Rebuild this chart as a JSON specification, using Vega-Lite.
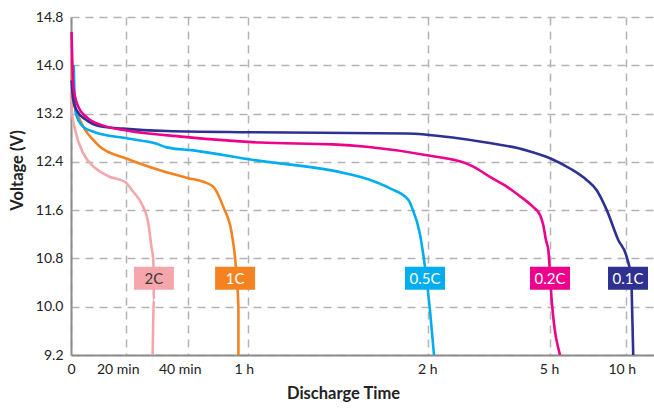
{
  "$schema": "https://vega.github.io/schema/vega-lite/v6.json",
  "width": 583,
  "height": 338,
  "autosize": "none",
  "padding": {"left": 71, "top": 17, "right": 0, "bottom": 54},
  "background": "white",
  "config": {
    "view": {"stroke": null},
    "font": "Lato",
    "axis": {
      "labelFont": "Lato",
      "labelFontSize": 14,
      "labelColor": "#222",
      "titleFont": "Lato",
      "titleFontSize": 16.5,
      "titleFontWeight": "bold",
      "titleColor": "#222",
      "ticks": false,
      "domainColor": "#8c8c8c",
      "domainWidth": 2,
      "gridColor": "#b3b3b3",
      "gridDash": [8, 6],
      "gridWidth": 1.5
    }
  },
  "datasets": {
    "curves": [
      {"rate": "2C", "i": 1, "t": 0.0, "v": 13.55},
      {"rate": "2C", "i": 2, "t": 0.26, "v": 13.26},
      {"rate": "2C", "i": 3, "t": 1.5, "v": 12.93},
      {"rate": "2C", "i": 4, "t": 4.5, "v": 12.54},
      {"rate": "2C", "i": 5, "t": 8.2, "v": 12.32},
      {"rate": "2C", "i": 6, "t": 10.6, "v": 12.24},
      {"rate": "2C", "i": 7, "t": 14.3, "v": 12.15},
      {"rate": "2C", "i": 8, "t": 19.7, "v": 12.07},
      {"rate": "2C", "i": 9, "t": 22.5, "v": 11.9},
      {"rate": "2C", "i": 10, "t": 25.1, "v": 11.71},
      {"rate": "2C", "i": 11, "t": 27.3, "v": 11.38},
      {"rate": "2C", "i": 12, "t": 28.3, "v": 10.99},
      {"rate": "2C", "i": 13, "t": 28.9, "v": 10.77},
      {"rate": "2C", "i": 14, "t": 29.1, "v": 10.11},
      {"rate": "2C", "i": 15, "t": 28.7, "v": 9.2},

      {"rate": "1C", "i": 1, "t": 0.26, "v": 14.11},
      {"rate": "1C", "i": 2, "t": 0.37, "v": 13.81},
      {"rate": "1C", "i": 3, "t": 0.84, "v": 13.42},
      {"rate": "1C", "i": 4, "t": 3.3, "v": 13.09},
      {"rate": "1C", "i": 5, "t": 8.2, "v": 12.76},
      {"rate": "1C", "i": 6, "t": 10.6, "v": 12.65},
      {"rate": "1C", "i": 7, "t": 20, "v": 12.46},
      {"rate": "1C", "i": 8, "t": 31.1, "v": 12.26},
      {"rate": "1C", "i": 9, "t": 40.2, "v": 12.13},
      {"rate": "1C", "i": 10, "t": 45.2, "v": 12.07},
      {"rate": "1C", "i": 11, "t": 48.5, "v": 11.99},
      {"rate": "1C", "i": 12, "t": 51.9, "v": 11.65},
      {"rate": "1C", "i": 13, "t": 54.7, "v": 11.21},
      {"rate": "1C", "i": 14, "t": 55.8, "v": 10.8},
      {"rate": "1C", "i": 15, "t": 56.9, "v": 10.0},
      {"rate": "1C", "i": 16, "t": 56.9, "v": 9.2},

      {"rate": "0.5C", "i": 1, "t": 1.0, "v": 14.0},
      {"rate": "0.5C", "i": 2, "t": 1.3, "v": 13.5},
      {"rate": "0.5C", "i": 3, "t": 1.8, "v": 13.2},
      {"rate": "0.5C", "i": 4, "t": 4.5, "v": 12.98},
      {"rate": "0.5C", "i": 5, "t": 8.2, "v": 12.9},
      {"rate": "0.5C", "i": 6, "t": 20.3, "v": 12.79},
      {"rate": "0.5C", "i": 7, "t": 30, "v": 12.7},
      {"rate": "0.5C", "i": 8, "t": 33.2, "v": 12.64},
      {"rate": "0.5C", "i": 9, "t": 41.9, "v": 12.59},
      {"rate": "0.5C", "i": 10, "t": 61.9, "v": 12.43},
      {"rate": "0.5C", "i": 11, "t": 90.7, "v": 12.23},
      {"rate": "0.5C", "i": 12, "t": 99.5, "v": 12.12},
      {"rate": "0.5C", "i": 13, "t": 107.3, "v": 11.96},
      {"rate": "0.5C", "i": 14, "t": 113.4, "v": 11.77},
      {"rate": "0.5C", "i": 15, "t": 114.5, "v": 11.65},
      {"rate": "0.5C", "i": 16, "t": 117.2, "v": 11.21},
      {"rate": "0.5C", "i": 17, "t": 118.9, "v": 10.66},
      {"rate": "0.5C", "i": 18, "t": 122.5, "v": 9.94},
      {"rate": "0.5C", "i": 19, "t": 128.4, "v": 9.2},

      {"rate": "0.1C", "i": 1, "t": 0.2, "v": 13.75},
      {"rate": "0.1C", "i": 2, "t": 0.84, "v": 13.42},
      {"rate": "0.1C", "i": 3, "t": 2.1, "v": 13.25},
      {"rate": "0.1C", "i": 4, "t": 5.7, "v": 13.09},
      {"rate": "0.1C", "i": 5, "t": 10.6, "v": 12.99},
      {"rate": "0.1C", "i": 6, "t": 19, "v": 12.95},
      {"rate": "0.1C", "i": 7, "t": 33.3, "v": 12.91},
      {"rate": "0.1C", "i": 8, "t": 60.8, "v": 12.89},
      {"rate": "0.1C", "i": 9, "t": 112.8, "v": 12.87},
      {"rate": "0.1C", "i": 10, "t": 119.5, "v": 12.85},
      {"rate": "0.1C", "i": 11, "t": 200.9, "v": 12.73},
      {"rate": "0.1C", "i": 12, "t": 265.5, "v": 12.59},
      {"rate": "0.1C", "i": 13, "t": 300, "v": 12.46},
      {"rate": "0.1C", "i": 14, "t": 379, "v": 12.29},
      {"rate": "0.1C", "i": 15, "t": 445, "v": 12.1},
      {"rate": "0.1C", "i": 16, "t": 485, "v": 11.93},
      {"rate": "0.1C", "i": 17, "t": 525, "v": 11.6},
      {"rate": "0.1C", "i": 18, "t": 571, "v": 11.1},
      {"rate": "0.1C", "i": 19, "t": 604, "v": 10.83},
      {"rate": "0.1C", "i": 20, "t": 624, "v": 10.44},
      {"rate": "0.1C", "i": 21, "t": 627, "v": 10.0},
      {"rate": "0.1C", "i": 22, "t": 632, "v": 9.2},

      {"rate": "0.2C", "i": 1, "t": 0.2, "v": 14.55},
      {"rate": "0.2C", "i": 2, "t": 0.84, "v": 13.64},
      {"rate": "0.2C", "i": 3, "t": 2.7, "v": 13.31},
      {"rate": "0.2C", "i": 4, "t": 5.7, "v": 13.14},
      {"rate": "0.2C", "i": 5, "t": 11.8, "v": 13.0},
      {"rate": "0.2C", "i": 6, "t": 20.3, "v": 12.92},
      {"rate": "0.2C", "i": 7, "t": 39.7, "v": 12.81},
      {"rate": "0.2C", "i": 8, "t": 64.1, "v": 12.72},
      {"rate": "0.2C", "i": 9, "t": 88.3, "v": 12.69},
      {"rate": "0.2C", "i": 10, "t": 99.5, "v": 12.65},
      {"rate": "0.2C", "i": 11, "t": 119.5, "v": 12.51},
      {"rate": "0.2C", "i": 12, "t": 176.8, "v": 12.37},
      {"rate": "0.2C", "i": 13, "t": 190, "v": 12.3},
      {"rate": "0.2C", "i": 14, "t": 211.3, "v": 12.15},
      {"rate": "0.2C", "i": 15, "t": 236, "v": 11.99},
      {"rate": "0.2C", "i": 16, "t": 255.6, "v": 11.83},
      {"rate": "0.2C", "i": 17, "t": 275.3, "v": 11.65},
      {"rate": "0.2C", "i": 18, "t": 285.2, "v": 11.52},
      {"rate": "0.2C", "i": 19, "t": 290.1, "v": 11.35},
      {"rate": "0.2C", "i": 20, "t": 294.1, "v": 11.1},
      {"rate": "0.2C", "i": 21, "t": 297.5, "v": 10.94},
      {"rate": "0.2C", "i": 22, "t": 306.7, "v": 10.11},
      {"rate": "0.2C", "i": 23, "t": 339.6, "v": 9.2}
    ],
    "labels": [
      {"rate": "2C", "t": 29.1, "v": 10.47},
      {"rate": "1C", "t": 55.8, "v": 10.47},
      {"rate": "0.5C", "t": 118.9, "v": 10.47},
      {"rate": "0.2C", "t": 300, "v": 10.47},
      {"rate": "0.1C", "t": 609.8, "v": 10.47}
    ]
  },
  "encoding": {
    "x": {
      "field": "t",
      "type": "quantitative",
      "title": "Discharge Time",
      "scale": {
        "domain": [0, 20, 40, 60, 120, 300, 600, 720],
        "range": [0, 54.7, 116.7, 176.7, 357.3, 479, 554.7, 583],
        "nice": false,
        "zero": false,
        "clamp": true
      },
      "axis": {
        "values": [0, 20, 40, 60, 120, 300, 600],
        "labelExpr": "datum.value == 0 ? '0' : datum.value < 60 ? datum.value + ' min' : (datum.value / 60) + ' h'",
        "labelFlush": false,
        "labelPadding": 7,
        "labelOffset": {
          "condition": [
            {"test": "datum.value == 20 || datum.value == 40", "value": -8},
            {"test": "datum.value == 60 || datum.value == 600", "value": -4},
            {"test": "datum.value == 0", "value": 0}
          ],
          "value": -1
        },
        "titleX": 272,
        "titleY": 38,
        "titleBaseline": "middle"
      }
    },
    "y": {
      "field": "v",
      "type": "quantitative",
      "title": "Voltage (V)",
      "scale": {"domain": [9.2, 14.8], "nice": false, "zero": false},
      "axis": {
        "values": [9.2, 10.0, 10.8, 11.6, 12.4, 13.2, 14.0, 14.8],
        "format": ".1f",
        "labelPadding": 8,
        "labelFlush": false,
        "titleX": -54,
        "titleY": 153,
        "titleAngle": -90,
        "titleAlign": "center",
        "titleBaseline": "middle"
      }
    }
  },
  "layer": [
    {
      "data": {"name": "curves"},
      "mark": {"type": "line", "strokeWidth": 2.6, "interpolate": "monotone"},
      "encoding": {
        "color": {
          "field": "rate",
          "type": "nominal",
          "scale": {
            "domain": ["2C", "1C", "0.5C", "0.2C", "0.1C"],
            "range": ["#f5a6aa", "#f58220", "#00aeef", "#ec008c", "#2e3192"]
          },
          "legend": null
        },
        "detail": {"field": "rate"},
        "order": {"field": "i", "type": "quantitative"}
      }
    },
    {
      "data": {"name": "labels"},
      "mark": {
        "type": "point",
        "shape": "M-1,-0.575L1,-0.575L1,0.575L-1,0.575Z",
        "size": 1600,
        "filled": true,
        "opacity": 1,
        "strokeWidth": 0
      },
      "encoding": {
        "color": {"field": "rate", "type": "nominal", "legend": null}
      }
    },
    {
      "data": {"name": "labels"},
      "mark": {"type": "text", "font": "Lato", "fontSize": 15, "baseline": "middle", "align": "center", "dy": 1},
      "encoding": {
        "text": {"field": "rate"},
        "color": {
          "condition": {"test": "datum.rate === '2C'", "value": "#3a3a3a"},
          "value": "white"
        }
      }
    }
  ]
}
